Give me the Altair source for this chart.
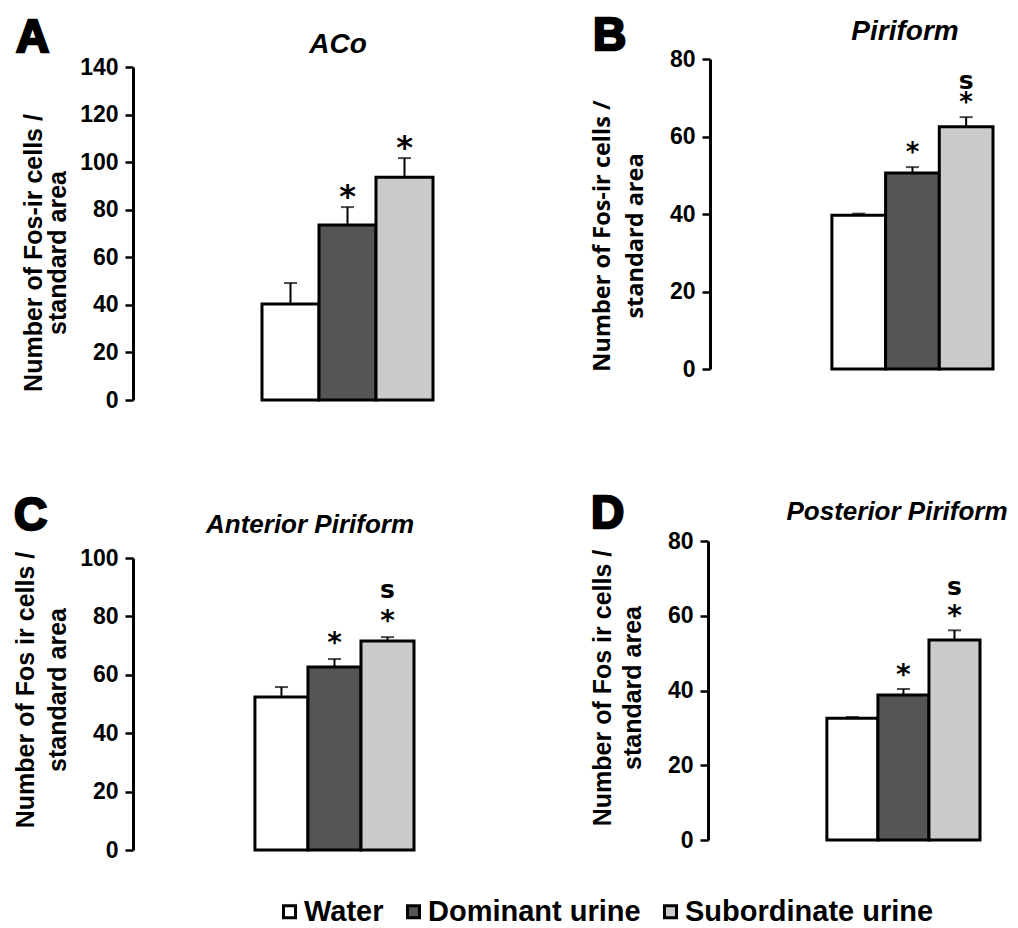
import altair as alt
import pandas as pd

groups = ["Water", "Dominant urine", "Subordinate urine"]
fills = ["#ffffff", "#555555", "#cbcbcb"]

# Panel A - ACo
aco_mean = [40.4, 73.6, 93.7]
aco_sem = [8.8, 7.5, 8.0]
aco_star = ["", "*", "*"]
aco_s = ["", "", ""]
aco_ticks = [0, 20, 40, 60, 80, 100, 120, 140]

# Panel B - Piriform
pir_mean = [39.7, 50.6, 62.5]
pir_sem = [0.4, 1.5, 2.5]
pir_star = ["", "*", "*"]
pir_s = ["", "", "s"]
pir_ticks = [0, 20, 40, 60, 80]

# Panel C - Anterior Piriform
ant_mean = [52.4, 62.7, 71.6]
ant_sem = [3.4, 2.7, 1.3]
ant_star = ["", "*", "*"]
ant_s = ["", "", "s"]
ant_ticks = [0, 20, 40, 60, 80, 100]

# Panel D - Posterior Piriform
post_mean = [32.6, 38.8, 53.5]
post_sem = [0.3, 1.6, 2.6]
post_star = ["", "*", "*"]
post_s = ["", "", "s"]
post_ticks = [0, 20, 40, 60, 80]

FONT = "Liberation Sans"

color = alt.Color(
    "group:N",
    scale=alt.Scale(domain=groups, range=fills),
    legend=alt.Legend(
        orient="none", legendX=142, legendY=838, direction="horizontal",
        title=None, labelFont=FONT, labelFontSize=29, labelFontWeight="bold",
        labelColor="black", symbolType="square", symbolSize=144,
        symbolStrokeColor="black", symbolStrokeWidth=3, symbolOpacity=1,
        labelOffset=0, columnPadding=15, padding=0, labelLimit=0,
    ),
)


def text_layer(txt, x, y, size, **kw):
    return alt.Chart(pd.DataFrame({"t": [txt]})).mark_text(
        fontSize=size, color="black", **kw
    ).encode(x=alt.value(x), y=alt.value(y), text="t:N")


def panel(letter, letter_xy, title, title_xy, title_size, ytitle, yt_xy, yt_font,
          yt_size, yt_weight, means, sems, stars, ss, ticks, width, height,
          yrange, xlo, star_size, star_dy, s_dy, axis_offset=0):
    df = pd.DataFrame({
        "group": groups, "idx": [0, 1, 2], "mean": means, "sem": sems,
        "star": stars, "s": ss,
    })
    base = alt.Chart(df).transform_calculate(
        x0="datum.idx", x1="datum.idx + 1", xc="datum.idx + 0.5",
        top="datum.mean + datum.sem",
    )
    xs = alt.Scale(domain=[xlo, 3], nice=False, zero=False)
    ys = alt.Scale(domain=[0, ticks[-1]], range=yrange, nice=False)
    yaxis = alt.Axis(
        values=ticks, title=None, grid=False, tickSize=8, tickWidth=2.5,
        tickColor="black", domainColor="black", domainWidth=3,
        labelFont=FONT, labelFontSize=23, labelFontWeight="bold",
        labelColor="black", labelPadding=7, offset=axis_offset,
    )
    bars = base.mark_bar(stroke="black", strokeWidth=3).encode(
        x=alt.X("x0:Q", scale=xs, axis=None),
        x2="x1:Q",
        y=alt.Y("mean:Q", scale=ys, axis=yaxis),
        y2=alt.datum(0),
        color=color,
    )
    err = base.mark_rule(color="black", strokeWidth=2).encode(
        x="xc:Q", y="mean:Q", y2="top:Q"
    )
    cap = base.mark_tick(orient="horizontal", color="black", size=13,
                         thickness=2).encode(x="xc:Q", y="top:Q")
    star = base.mark_text(font="DejaVu Sans", fontSize=star_size,
                          fontWeight="bold", baseline="middle",
                          dy=star_dy, color="black").encode(
        x="xc:Q", y="top:Q", text="star:N")
    s = base.mark_text(font="DejaVu Sans", fontSize=25, fontWeight="bold",
                       baseline="middle", dy=s_dy, color="black").encode(
        x="xc:Q", y="top:Q", text="s:N")
    let = text_layer(letter, letter_xy[0], letter_xy[1], 46, font=FONT,
                     fontWeight="bold", align="left", baseline="alphabetic",
                     stroke="black", strokeWidth=2.5)
    tit = text_layer(title, title_xy[0], title_xy[1], title_size, font=FONT,
                     fontWeight="bold", fontStyle="italic", align="center",
                     baseline="alphabetic")
    yt1 = text_layer(ytitle[0], yt_xy[0], yt_xy[2], yt_size, font=yt_font,
                     fontWeight=yt_weight, angle=270, align="center",
                     baseline="middle")
    yt2 = text_layer(ytitle[1], yt_xy[1], yt_xy[2], yt_size, font=yt_font,
                     fontWeight=yt_weight, angle=270, align="center",
                     baseline="middle")
    return alt.layer(bars, err, cap, star, s, let, tit, yt1, yt2).properties(
        width=width, height=height)


pA = panel("A", (-117, -7), "ACo", (205, -6), 28,
           ["Number of Fos-ir cells /", "standard area"], (-99, -75, 194),
           FONT, 25, "bold", aco_mean, aco_sem, aco_star, aco_s, aco_ticks,
           300, 341, [341, 8], -2.263, 32, -10, -32)
pB = panel("B", (-117, -9), "Piriform", (195, -19), 28,
           ["Number of Fos-ir cells /", "standard  area"], (-107, -74, 177),
           "Open Sans", 23.5, "bold", pir_mean, pir_sem, pir_star, pir_s,
           pir_ticks, 283, 341, [310, 0], -2.27, 26, -14, -36)
pC = panel("C", (-119, -11), "Anterior Piriform", (177, -8), 26,
           ["Number of Fos ir cells /", "standard area"], (-107, -75, 149),
           FONT, 25, "bold", ant_mean, ant_sem, ant_star, ant_s, ant_ticks,
           281, 309, [309, 17], -2.30, 28, -15, -47)
pD = panel("D", (-119, -13), "Posterior Piriform", (187, -21), 26,
           ["Number of Fos ir cells /", "standard area"], (-107, -77, 147),
           FONT, 25, "bold", post_mean, post_sem, post_star, post_s, post_ticks,
           270, 309, [299, 0], -2.29, 28, -13, -43, axis_offset=2)

chart = alt.concat(
    pA, pB, pC, pD, columns=2, bounds="flush",
    spacing={"row": 141, "column": 277},
).properties(
    padding={"left": 6, "top": 5, "right": 0, "bottom": 0}
).configure_view(stroke=None)

chart.save("out.html", embed_options={"renderer": "svg", "actions": False})
